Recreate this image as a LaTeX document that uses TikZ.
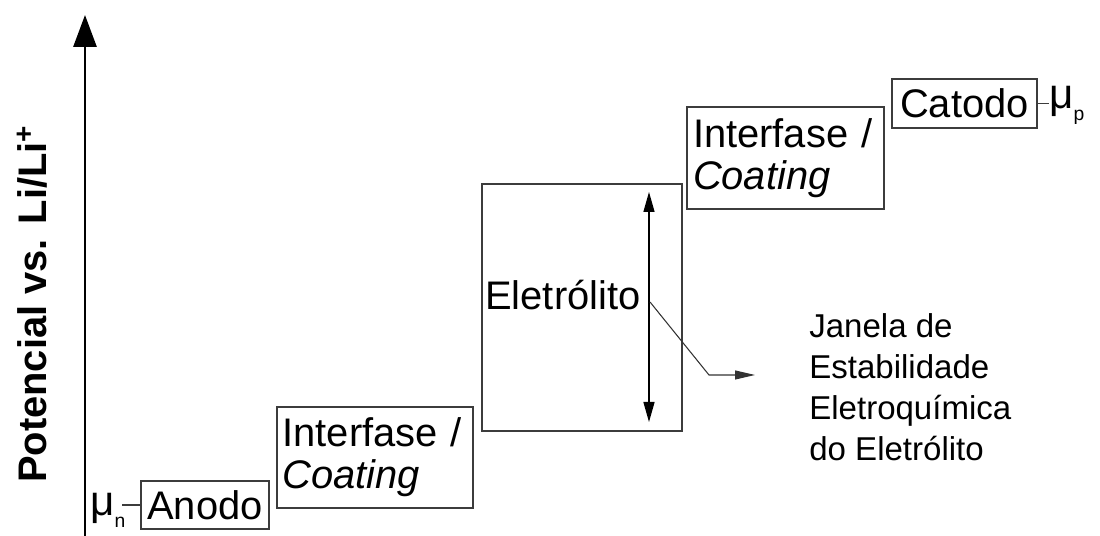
\documentclass[tikz,border=0pt]{standalone}
\usepackage{fontspec}
\setmainfont{Liberation Sans}
\usepackage{tikz}
\usetikzlibrary{arrows.meta, positioning, calc}
\definecolor{boxgray}{RGB}{60,60,60}
\definecolor{leadgray}{RGB}{50,50,50}

\newcommand{\layerfont}{\fontsize{22.7}{23.9}\selectfont}
\newcommand{\notefont}{\fontsize{18.8}{23.3}\selectfont}
\newcommand{\mufont}{\fontsize{24}{26}\selectfont}
\newcommand{\potsub}[1]{\raisebox{-6.8pt}{\fontsize{11}{12}\selectfont #1}}

\tikzset{
  layer/.style={draw=boxgray, line width=0.75pt, inner sep=0pt, font=\layerfont},
  interlayer/.style={layer, align=left, text width=3.7cm, minimum width=3.92cm, minimum height=2.02cm},
}

\begin{document}
\begin{tikzpicture}[x=0.02cm, y=0.02cm]
  \useasboundingbox (0,0) rectangle (1100,536);

  % potential axis
  \coordinate (axbot) at (85,0);
  \coordinate (axtop) at (85,521);
  \draw[line width=1.7pt, -{Triangle[length=0.64cm, width=0.46cm]}] (axbot) -- (axtop);
  \node (ylabel) [rotate=90, anchor=base, font={\layerfont\bfseries}] at (47,232) {Potencial vs. Li/Li\textsuperscript{+}};

  % layers, from anode to cathode
  \node (anodo) [layer, minimum width=2.56cm, minimum height=0.96cm] at (205,31) {Anodo};
  \node (inter1) [interlayer] at (375,78.5) {Interfase /\\\textit{Coating}};
  \node (elet) [layer, minimum width=4cm, minimum height=4.94cm] at (582,228.5) {};
  \node (eletlbl) [anchor=base west, inner sep=0pt, font=\layerfont] at (485,226) {Eletrólito};
  \node (inter2) [interlayer, minimum width=3.94cm, minimum height=2.04cm] at (785.5,378) {Interfase /\\\textit{Coating}};
  \node (catodo) [layer, minimum width=2.9cm, minimum height=0.98cm] at (964.5,432.5) {Catodo};

  % chemical potentials
  \node (mun) [anchor=base west, inner sep=0pt, font=\mufont] at (90,20) {μ\potsub{n}};
  \node (mup) [anchor=base west, inner sep=0pt, font=\mufont] at (1049,427) {μ\potsub{p}};
  \draw[boxgray, line width=0.6pt] (anodo.west) -- ++(-18,0);
  \draw[boxgray, line width=0.6pt] (catodo.east) -- (catodo.east -| mup.west);

  % stability window
  \coordinate (wtop) at (649,344);
  \coordinate (wbot) at (649,114);
  \draw[line width=0.8pt, {Triangle[length=0.4cm, width=0.22cm]}-{Triangle[length=0.4cm, width=0.22cm]}] (wbot) -- (wtop);
  \node (janela) [anchor=north west, inner sep=0pt, align=left, font=\notefont] at (809,222.6) {Janela de\\Estabilidade\\Eletroquímica\\do Eletrólito};
  \coordinate (wmid) at (650,234);
  \coordinate (wbend) at (709,161);
  \coordinate (wend) at (755,161);
  \draw[leadgray, line width=0.6pt, -{Triangle[length=0.4cm, width=0.18cm]}] (wmid) -- (wbend) -- (wend);
\end{tikzpicture}
\end{document}
